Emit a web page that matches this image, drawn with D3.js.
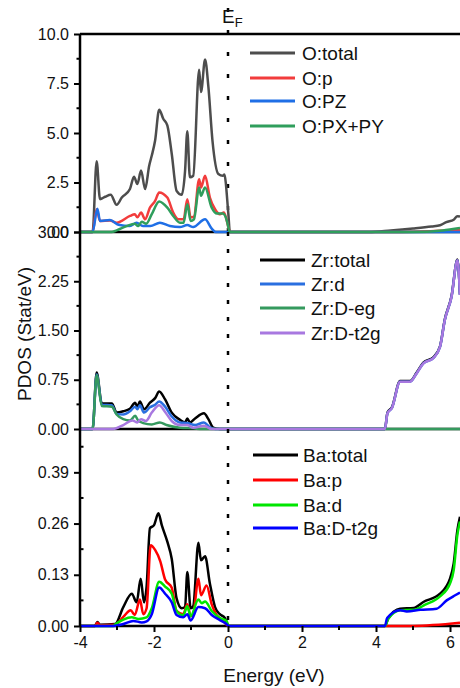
<!DOCTYPE html>
<html>
<head>
<meta charset="utf-8">
<script src="https://cdn.jsdelivr.net/npm/d3@7"></script>
<style>
  html, body { margin: 0; padding: 0; background: #fff; }
  svg { display: block; font-family: "Liberation Sans", Arial, sans-serif; }
</style>
</head>
<body>
<div id="chart"></div>
<script>
// energy (eV) vs PDOS (states/eV)
const oTotal = [[-4,0],[-3.66,0],[-3.55,3.57],[-3.46,1.66],[-3.32,1.78],[-3.17,1.88],[-3.01,1.37],[-2.87,1.74],[-2.65,2.17],[-2.54,2.79],[-2.45,2.42],[-2.35,3.1],[-2.24,2.17],[-2.13,3.35],[-2.06,3.86],[-1.97,4.62],[-1.86,6.18],[-1.75,5.72],[-1.64,5.38],[-1.52,3.94],[-1.39,2.08],[-1.25,1.88],[-1.16,3.1],[-1.10,5.09],[-1.03,2.76],[-0.94,2.84],[-0.78,8.2],[-0.73,7.07],[-0.62,8.71],[-0.53,7.33],[-0.42,4.62],[-0.26,2.93],[-0.14,2.84],[-0.10,2.9],[0.01,0.9],[0.05,0],[3.8,0],[4.4,0.08],[5.0,0.18],[5.5,0.28],[5.73,0.34],[5.9,0.5],[6.1,0.62],[6.2,0.8],[6.27,0.78]];
const oP = [[-4,0],[-3.66,0],[-3.55,1.15],[-3.46,0.56],[-3.19,0.58],[-3.01,0.47],[-2.65,0.81],[-2.52,0.9],[-2.45,0.74],[-2.35,0.98],[-2.24,0.64],[-2.11,1.23],[-1.97,1.57],[-1.86,2.0],[-1.64,1.74],[-1.48,0.98],[-1.34,0.64],[-1.2,0.64],[-1.1,1.66],[-1.01,0.74],[-0.92,0.78],[-0.78,2.67],[-0.73,2.25],[-0.62,2.84],[-0.49,1.74],[-0.35,1.15],[-0.22,0.9],[-0.11,0.98],[0.01,0.25],[0.05,0],[4.5,0],[6.27,0.1]];
const oPZ = [[-4,0],[-3.66,0],[-3.53,1.18],[-3.46,0.56],[-3.19,0.6],[-2.96,0.37],[-2.65,0.3],[-2.47,0.47],[-2.3,0.3],[-2.1,0.3],[-1.84,0.47],[-1.57,0.3],[-1.3,0.25],[-1.1,0.35],[-0.94,0.25],[-0.62,0.64],[-0.44,0.17],[-0.33,0],[6.27,0]];
const oPXPY = [[-4,0],[-3.15,0],[-3.01,0.08],[-2.74,0.3],[-2.52,0.42],[-2.43,0.3],[-2.33,0.52],[-2.21,0.42],[-2.06,0.9],[-1.86,1.54],[-1.64,1.23],[-1.48,0.81],[-1.3,0.47],[-1.2,0.47],[-1.1,1.4],[-1.01,0.56],[-0.92,0.64],[-0.78,2.25],[-0.73,1.83],[-0.62,2.25],[-0.44,1.23],[-0.3,0.93],[-0.14,0.93],[-0.03,0.56],[0.03,0.08],[0.05,0],[5.0,0],[5.8,0.08],[6.27,0.2]];

const zrTotal = [[-4,0],[-3.66,0],[-3.55,0.86],[-3.41,0.39],[-3.14,0.39],[-3.01,0.25],[-2.83,0.27],[-2.65,0.31],[-2.51,0.4],[-2.45,0.34],[-2.38,0.42],[-2.27,0.3],[-2.11,0.4],[-1.97,0.47],[-1.86,0.57],[-1.7,0.45],[-1.52,0.25],[-1.3,0.14],[-1.16,0.1],[-1.1,0.16],[-1.03,0.1],[-0.89,0.16],[-0.65,0.24],[-0.53,0.15],[-0.4,0.02],[-0.22,0],[4.24,0],[4.31,0.25],[4.43,0.33],[4.65,0.73],[4.92,0.73],[5.1,0.86],[5.28,1.01],[5.55,1.09],[5.73,1.26],[5.86,1.67],[6.04,2.02],[6.2,2.58],[6.27,2.05]];
const zrD = [[-4,0],[-3.66,0],[-3.55,0.83],[-3.41,0.37],[-3.14,0.36],[-3.01,0.23],[-2.83,0.22],[-2.65,0.27],[-2.51,0.34],[-2.45,0.3],[-2.38,0.36],[-2.27,0.25],[-2.11,0.33],[-1.97,0.37],[-1.86,0.42],[-1.7,0.34],[-1.52,0.19],[-1.3,0.1],[-1.1,0.09],[-0.89,0.06],[-0.65,0.1],[-0.5,0.03],[-0.35,0],[4.24,0],[4.31,0.24],[4.43,0.32],[4.65,0.72],[4.92,0.72],[5.1,0.85],[5.28,1.0],[5.55,1.08],[5.73,1.25],[5.86,1.66],[6.04,2.01],[6.2,2.57],[6.27,2.04]];
const zrEg = [[-4,0],[-3.66,0],[-3.55,0.82],[-3.41,0.35],[-3.14,0.34],[-3.01,0.22],[-2.83,0.15],[-2.65,0.13],[-2.51,0.2],[-2.43,0.13],[-2.29,0.09],[-2.06,0.07],[-1.84,0.1],[-1.66,0.06],[-1.3,0.02],[-0.94,0.01],[-0.7,0],[6.27,0]];
const zrT2g = [[-4,0],[-3.1,0],[-2.83,0.06],[-2.58,0.13],[-2.45,0.1],[-2.35,0.15],[-2.22,0.12],[-2.06,0.25],[-1.86,0.36],[-1.7,0.26],[-1.52,0.12],[-1.3,0.06],[-1.1,0.06],[-0.94,0.02],[-0.65,0.05],[-0.44,0],[4.24,0],[4.31,0.24],[4.43,0.32],[4.65,0.72],[4.92,0.72],[5.1,0.85],[5.28,1.0],[5.55,1.08],[5.73,1.25],[5.86,1.66],[6.04,2.01],[6.2,2.57],[6.27,2.04]];

const baTotal = [[-4,0],[-3.6,0],[-3.53,0.01],[-3.46,0.003],[-3.05,0.005],[-2.83,0.048],[-2.6,0.082],[-2.47,0.06],[-2.36,0.12],[-2.27,0.06],[-2.2,0.1],[-2.11,0.248],[-2.0,0.256],[-1.88,0.286],[-1.79,0.256],[-1.64,0.214],[-1.52,0.17],[-1.39,0.07],[-1.25,0.045],[-1.16,0.048],[-1.1,0.137],[-1.01,0.045],[-0.94,0.05],[-0.8,0.211],[-0.73,0.167],[-0.62,0.177],[-0.49,0.108],[-0.35,0.048],[-0.22,0.03],[-0.08,0.02],[0.01,0],[4.24,0],[4.33,0.019],[4.65,0.044],[5.02,0.046],[5.28,0.061],[5.73,0.082],[6.0,0.12],[6.1,0.159],[6.2,0.243],[6.27,0.277]];
const baP = [[-4,0],[-3.6,0],[-3.53,0.008],[-3.46,0.002],[-3.05,0.003],[-2.83,0.023],[-2.63,0.04],[-2.52,0.028],[-2.38,0.067],[-2.29,0.03],[-2.2,0.045],[-2.09,0.205],[-1.97,0.193],[-1.83,0.164],[-1.7,0.118],[-1.52,0.097],[-1.39,0.038],[-1.21,0.03],[-1.1,0.055],[-1.01,0.025],[-0.94,0.03],[-0.8,0.12],[-0.73,0.078],[-0.58,0.103],[-0.44,0.055],[-0.31,0.028],[-0.13,0.013],[0.01,0],[5.0,0],[6.27,0.008]];
const baD = [[-4,0],[-3.1,0],[-3.06,0.003],[-2.83,0.016],[-2.6,0.022],[-2.42,0.018],[-2.2,0.022],[-2.06,0.045],[-1.86,0.112],[-1.7,0.1],[-1.52,0.082],[-1.39,0.038],[-1.21,0.027],[-1.1,0.05],[-1.01,0.025],[-0.8,0.067],[-0.71,0.058],[-0.62,0.062],[-0.44,0.038],[-0.22,0.02],[-0.04,0.013],[0.02,0],[4.24,0],[4.33,0.018],[4.65,0.04],[5.02,0.041],[5.33,0.054],[5.73,0.075],[6.0,0.108],[6.1,0.142],[6.2,0.232],[6.27,0.265]];
const baT2g = [[-4,0],[-3.1,0],[-2.83,0.005],[-2.56,0.013],[-2.33,0.009],[-2.2,0.012],[-2.06,0.03],[-1.86,0.098],[-1.7,0.082],[-1.52,0.06],[-1.39,0.028],[-1.21,0.022],[-1.1,0.03],[-1.01,0.014],[-0.8,0.048],[-0.62,0.045],[-0.44,0.028],[-0.22,0.015],[-0.04,0.005],[0.02,0],[4.24,0],[4.3,0.02],[4.65,0.04],[4.83,0.037],[5.2,0.041],[5.64,0.044],[5.91,0.065],[6.14,0.078],[6.27,0.085]];

const xTicks = [-4, -2, 0, 2, 4, 6];
const xMinor = [-3, -1, 1, 3, 5];

const panels = [
  { top: 34,  bottom: 232, max: 10,  ticks: [0, 2.5, 5, 7.5, 10], minor: [1.25, 3.75, 6.25, 8.75], fmt: ".1f", dash: "4,18", minorIn: false,
    legend: { x1: 250, x2: 295, tx: 302, ys: [53, 78, 101, 126] },
    series: [
      { name: "O:total",   data: oTotal, color: "#4d4d4d" },
      { name: "O:p",       data: oP,     color: "#f23c3c" },
      { name: "O:PZ",      data: oPZ,    color: "#1f6fe6" },
      { name: "O:PX+PY",   data: oPXPY,  color: "#2f9e5c" }
    ] },
  { top: 232, bottom: 429, max: 3,   ticks: [0, 0.75, 1.5, 2.25, 3], minor: [0.375, 1.125, 1.875, 2.625], fmt: ".2f", dash: "4,13", minorIn: false,
    legend: { x1: 260, x2: 305, tx: 311, ys: [260, 284, 308, 333] },
    series: [
      { name: "Zr:total",  data: zrTotal, color: "#000000" },
      { name: "Zr:d",      data: zrD,     color: "#2a6fe0" },
      { name: "Zr:D-eg",   data: zrEg,    color: "#359a5e" },
      { name: "Zr:D-t2g",  data: zrT2g,   color: "#a878e0" }
    ] },
  { top: 429, bottom: 626, max: 0.5, ticks: [0, 0.13, 0.26, 0.39], minor: [0.065, 0.195, 0.325, 0.455], fmt: ".2f", dash: "4,13", minorIn: true,
    legend: { x1: 253, x2: 298, tx: 303, ys: [455, 480, 505, 528] },
    series: [
      { name: "Ba:total",  data: baTotal, color: "#000000" },
      { name: "Ba:p",      data: baP,     color: "#ff0000" },
      { name: "Ba:d",      data: baD,     color: "#00e600" },
      { name: "Ba:D-t2g",  data: baT2g,   color: "#0000ff" }
    ] }
];

const W = 460, H = 688;
const left = 80;

const svg = d3.select("#chart").append("svg")
  .attr("width", W)
  .attr("height", H);

const x = d3.scaleLinear().domain([-4, 6.27]).range([left, W]);

panels.forEach((p, i) => {
  const y = d3.scaleLinear().domain([0, p.max]).range([p.bottom, p.top]);
  const g = svg.append("g");

  // horizontal frame lines (top border / zero line)
  if (i === 0) {
    g.append("line").attr("x1", left).attr("x2", W).attr("y1", p.top).attr("y2", p.top)
      .attr("stroke", "#000").attr("stroke-width", 2.5);
  }
  g.append("line").attr("x1", left).attr("x2", W).attr("y1", p.bottom).attr("y2", p.bottom)
    .attr("stroke", "#000").attr("stroke-width", 2.5);

  // y axis
  const yAxis = d3.axisLeft(y).tickValues(p.ticks).tickFormat(d3.format(p.fmt)).tickSize(6).tickPadding(5);
  const ya = g.append("g").attr("transform", `translate(${left},0)`).call(yAxis);
  ya.select(".domain").remove();
  ya.selectAll(".tick line").attr("stroke-width", 2);
  ya.selectAll(".tick text").attr("font-size", 16).attr("fill", "#111")
    .attr("font-family", "'Liberation Sans', Arial, sans-serif");

  g.selectAll(".minor").data(p.minor).enter().append("line")
    .attr("x1", p.minorIn ? left : left - 3.5).attr("x2", p.minorIn ? left + 3.5 : left)
    .attr("y1", d => y(d)).attr("y2", d => y(d))
    .attr("stroke", "#000").attr("stroke-width", 2);

  // Fermi level dotted line
  g.append("line")
    .attr("x1", x(0)).attr("x2", x(0))
    .attr("y1", i === 0 ? 8 : p.top).attr("y2", p.bottom)
    .attr("stroke", "#000").attr("stroke-width", 2.5)
    .attr("stroke-dasharray", p.dash);

  // curves
  const line = d3.line().x(d => x(d[0])).y(d => y(d[1])).curve(d3.curveMonotoneX);
  g.selectAll(".curve").data(p.series).enter().append("path")
    .attr("d", d => line(d.data))
    .attr("fill", "none")
    .attr("stroke", d => d.color)
    .attr("stroke-width", 2.5)
    .attr("stroke-linejoin", "round");

  // legend
  const lg = g.append("g");
  p.series.forEach((s, k) => {
    const ly = p.legend.ys[k];
    lg.append("line").attr("x1", p.legend.x1).attr("x2", p.legend.x2).attr("y1", ly).attr("y2", ly)
      .attr("stroke", s.color).attr("stroke-width", 3);
    lg.append("text").attr("x", p.legend.tx).attr("y", ly).attr("dy", "0.35em")
      .attr("font-size", 19).attr("fill", "#111").text(s.name);
  });
});

// y axis line across all panels
svg.append("line").attr("x1", left).attr("x2", left).attr("y1", 34).attr("y2", 626)
  .attr("stroke", "#000").attr("stroke-width", 2.5);

// bottom x axis
const xAxis = d3.axisBottom(x).tickValues(xTicks).tickFormat(d => String(d)).tickSize(6).tickPadding(5);
const xa = svg.append("g").attr("transform", "translate(0,626)").call(xAxis);
xa.select(".domain").remove();
xa.selectAll(".tick line").attr("stroke-width", 2);
xa.selectAll(".tick text").attr("font-size", 16).attr("fill", "#111")
  .attr("font-family", "'Liberation Sans', Arial, sans-serif");
svg.selectAll(".xminor").data(xMinor).enter().append("line")
  .attr("x1", d => x(d)).attr("x2", d => x(d))
  .attr("y1", 626).attr("y2", 630)
  .attr("stroke", "#000").attr("stroke-width", 2);

// axis titles
svg.append("text")
  .attr("transform", "translate(31,334) rotate(-90)")
  .attr("text-anchor", "middle")
  .attr("font-size", 19).attr("fill", "#111")
  .text("PDOS (Stat/eV)");

svg.append("text")
  .attr("x", 274).attr("y", 682)
  .attr("text-anchor", "middle")
  .attr("font-size", 19).attr("fill", "#111")
  .text("Energy (eV)");

// Fermi level label
const ef = svg.append("text").attr("x", 222).attr("y", 23).attr("font-size", 19).attr("fill", "#111");
ef.append("tspan").text("E");
ef.append("tspan").attr("font-size", 13).attr("dy", 4).text("F");
</script>
</body>
</html>
